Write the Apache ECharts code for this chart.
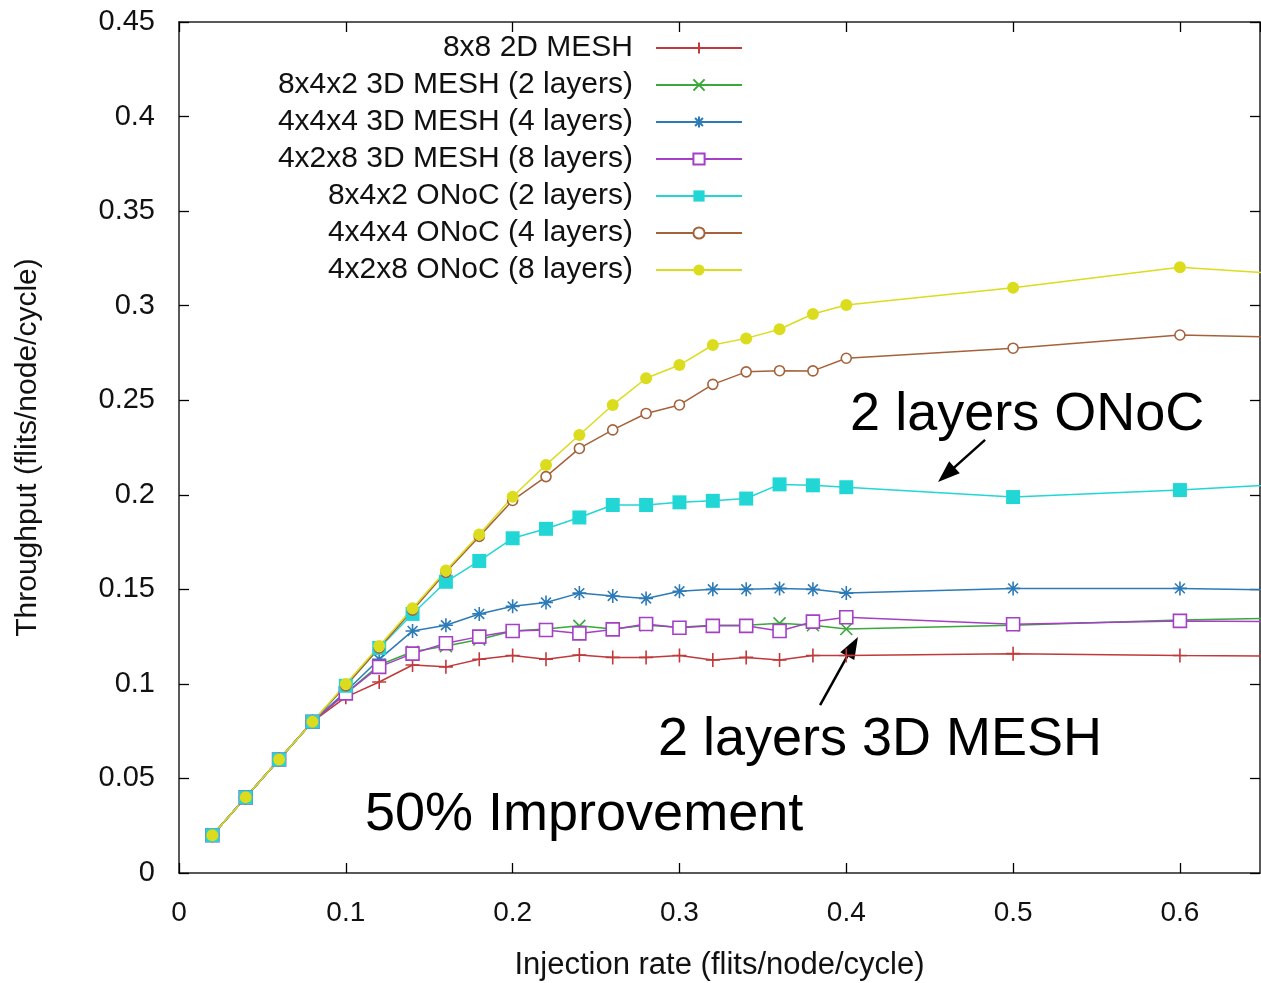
<!DOCTYPE html>
<html>
<head>
<meta charset="utf-8">
<script src="https://cdn.jsdelivr.net/npm/echarts@6/dist/echarts.min.js"></script>
<style>
html,body{margin:0;padding:0;background:#fff;}
#chart{width:1261px;height:983px;}
</style>
</head>
<body>
<div id="chart"></div>
<script>
// ---- data ----
const injection = [0.02,0.04,0.06,0.08,0.10,0.12,0.14,0.16,0.18,0.20,0.22,0.24,0.26,0.28,0.30,0.32,0.34,0.36,0.38,0.40,0.50,0.60,0.70];
const mesh2d_8x8   = [0.02,0.04,0.06,0.08,0.093,0.101,0.110,0.109,0.113,0.115,0.113,0.1153,0.114,0.114,0.115,0.1126,0.114,0.1126,0.115,0.115,0.116,0.115,0.1146];
const mesh3d_2l    = [0.02,0.04,0.06,0.08,0.095,0.110,0.117,0.120,0.1235,0.128,0.129,0.1307,0.129,0.131,0.130,0.131,0.131,0.132,0.131,0.129,0.131,0.1338,0.1354];
const mesh3d_4l    = [0.02,0.04,0.06,0.08,0.096,0.113,0.128,0.131,0.137,0.141,0.143,0.148,0.1465,0.1452,0.149,0.150,0.150,0.1505,0.150,0.148,0.1505,0.1505,0.149];
const mesh3d_8l    = [0.02,0.04,0.06,0.08,0.095,0.109,0.116,0.1215,0.125,0.128,0.1285,0.1267,0.1288,0.1317,0.1297,0.1307,0.1307,0.128,0.1329,0.1352,0.1315,0.1333,0.1327];
const onoc_2l      = [0.02,0.04,0.06,0.08,0.099,0.119,0.137,0.154,0.165,0.177,0.182,0.188,0.1946,0.1946,0.196,0.1968,0.198,0.2055,0.205,0.204,0.1988,0.2025,0.2075];
const onoc_4l      = [0.02,0.04,0.06,0.08,0.099,0.119,0.139,0.159,0.178,0.197,0.2096,0.2245,0.2343,0.243,0.2475,0.2584,0.265,0.2656,0.2655,0.2722,0.2775,0.2845,0.2827];
const onoc_8l      = [0.02,0.04,0.06,0.08,0.100,0.120,0.140,0.160,0.179,0.199,0.2158,0.2316,0.2475,0.2616,0.2686,0.2792,0.2827,0.2875,0.2956,0.3004,0.3095,0.3203,0.3145];

const seriesNames = ['8x8 2D MESH','8x4x2 3D MESH (2 layers)','4x4x4 3D MESH (4 layers)','4x2x8 3D MESH (8 layers)','8x4x2 ONoC (2 layers)','4x4x4 ONoC (4 layers)','4x2x8 ONoC (8 layers)'];
const seriesValues = [mesh2d_8x8, mesh3d_2l, mesh3d_4l, mesh3d_8l, onoc_2l, onoc_4l, onoc_8l];
const xTickMax = 0.648;
const yTickMax = 0.45;

const annotations = [
  {text:'2 layers ONoC', x:0.4023, y:0.2422},
  {text:'2 layers 3D MESH', x:0.2871, y:0.0703},
  {text:'50% Improvement', x:0.1115, y:0.0307}
];
const arrows = [
  {from:[0.4832,0.229], to:[0.455,0.2068]},
  {from:[0.3843,0.0888], to:[0.407,0.1248]}
];

// ---- styles ----
const colors = ['#c0393b','#3aa83a','#2d7bb6','#a43fc6','#22d6d6','#a5623a','#dcdc1e'];
const plus = 'path://M5,0L5,10M0,5L10,5';
const cross = 'path://M0,0L10,10M10,0L0,10';
const star = 'path://M5,0L5,10M0,5L10,5M1.5,1.5L8.5,8.5M8.5,1.5L1.5,8.5';
const symbolDefs = [
  {symbol:plus, size:14, stroke:true},
  {symbol:cross, size:12, stroke:true},
  {symbol:star, size:14, stroke:true},
  {symbol:'rect', size:13, hollow:true},
  {symbol:'rect', size:14},
  {symbol:'circle', size:10, hollow:true},
  {symbol:'circle', size:12}
];

const font = "'Liberation Sans', Arial, Helvetica, sans-serif";

const series = seriesNames.map((name, i) => {
  const d = symbolDefs[i];
  let itemStyle;
  if (d.stroke) itemStyle = {color: 'rgba(0,0,0,0)', borderColor: colors[i], borderWidth: 1.6};
  else if (d.hollow) itemStyle = {color: '#ffffff', borderColor: colors[i], borderWidth: 1.6};
  else itemStyle = {color: colors[i], borderColor: colors[i], borderWidth: 0};
  return {
    name: name,
    type: 'line',
    xAxisIndex: 0, yAxisIndex: 0,
    data: injection.map((x, k) => [x, seriesValues[i][k]]),
    symbol: d.symbol,
    symbolSize: d.size,
    showAllSymbol: true,
    lineStyle: {color: colors[i], width: 1.5},
    itemStyle: itemStyle,
    emphasis: {disabled: true},
    animation: false,
    clip: true
  };
});

const chart = echarts.init(document.getElementById('chart'), null, {renderer: 'canvas'});
const tickStyle = {show: true, inside: true, length: 10, lineStyle: {color: '#000', width: 1.3}};
const lineStyleAxis = {show: true, onZero: false, lineStyle: {color: '#222', width: 1.5}};
chart.setOption({
  backgroundColor: '#fff',
  animation: false,
  textStyle: {fontFamily: font},
  grid: {left: 179, top: 22, right: 1, bottom: 110, show: false, containLabel: false, outerBoundsMode: 'none'},
  legend: {
    orient: 'vertical', align: 'right', right: 518, top: 33, padding: 0,
    itemWidth: 86, itemHeight: 14, itemGap: 7,
    textStyle: {fontSize: 30, color: '#111', lineHeight: 30, fontFamily: font, padding: [0, 18, 0, 0]},
    data: seriesNames
  },
  xAxis: [
    {
      type: 'value', min: 0, max: xTickMax, interval: 0.1, position: 'bottom',
      splitLine: {show: false}, axisTick: tickStyle, axisLine: lineStyleAxis,
      name: 'Injection rate (flits/node/cycle)', nameLocation: 'middle', nameGap: 77,
      nameTextStyle: {fontSize: 31, color: '#111', fontFamily: font},
      axisLabel: {show: true, fontSize: 28, color: '#111', margin: 26, showMaxLabel: false, fontFamily: font}
    },
    {
      type: 'value', min: 0, max: xTickMax, interval: 0.1, position: 'top',
      splitLine: {show: false}, axisTick: tickStyle, axisLine: lineStyleAxis,
      axisLabel: {show: false}
    }
  ],
  yAxis: [
    {
      type: 'value', min: 0, max: yTickMax, interval: 0.05, position: 'left',
      splitLine: {show: false}, axisTick: tickStyle, axisLine: lineStyleAxis,
      name: 'Throughput (flits/node/cycle)', nameLocation: 'middle', nameGap: 136,
      nameTextStyle: {fontSize: 30, color: '#111', fontFamily: font},
      axisLabel: {show: true, fontSize: 29, color: '#111', margin: 24, fontFamily: font}
    },
    {
      type: 'value', min: 0, max: yTickMax, interval: 0.05, position: 'right',
      splitLine: {show: false}, axisTick: tickStyle, axisLine: lineStyleAxis,
      axisLabel: {show: false}
    }
  ],
  series: series
});

// ---- annotations placed through the chart's own scales ----
const gfx = [];
annotations.forEach(a => {
  const p = chart.convertToPixel({gridIndex: 0}, [a.x, a.y]);
  gfx.push({type: 'text', x: p[0], y: p[1], silent: true,
    style: {text: a.text, fontSize: 54, fill: '#000', fontFamily: font, verticalAlign: 'middle', align: 'left'}});
});
arrows.forEach(a => {
  const p0 = chart.convertToPixel({gridIndex: 0}, a.from);
  const p1 = chart.convertToPixel({gridIndex: 0}, a.to);
  const dx = p1[0] - p0[0], dy = p1[1] - p0[1];
  const len = Math.sqrt(dx*dx + dy*dy);
  const ux = dx/len, uy = dy/len;
  const hl = 22, hw = 8;
  const bx = p1[0] - ux*hl, by = p1[1] - uy*hl;
  gfx.push({type: 'line', silent: true, shape: {x1: p0[0], y1: p0[1], x2: bx + ux*2, y2: by + uy*2}, style: {stroke: '#000', lineWidth: 2.5}});
  gfx.push({type: 'polygon', silent: true, shape: {points: [[p1[0], p1[1]], [bx - uy*hw, by + ux*hw], [bx + uy*hw, by - ux*hw]]}, style: {fill: '#000'}});
});
chart.setOption({graphic: gfx});
</script>
</body>
</html>
